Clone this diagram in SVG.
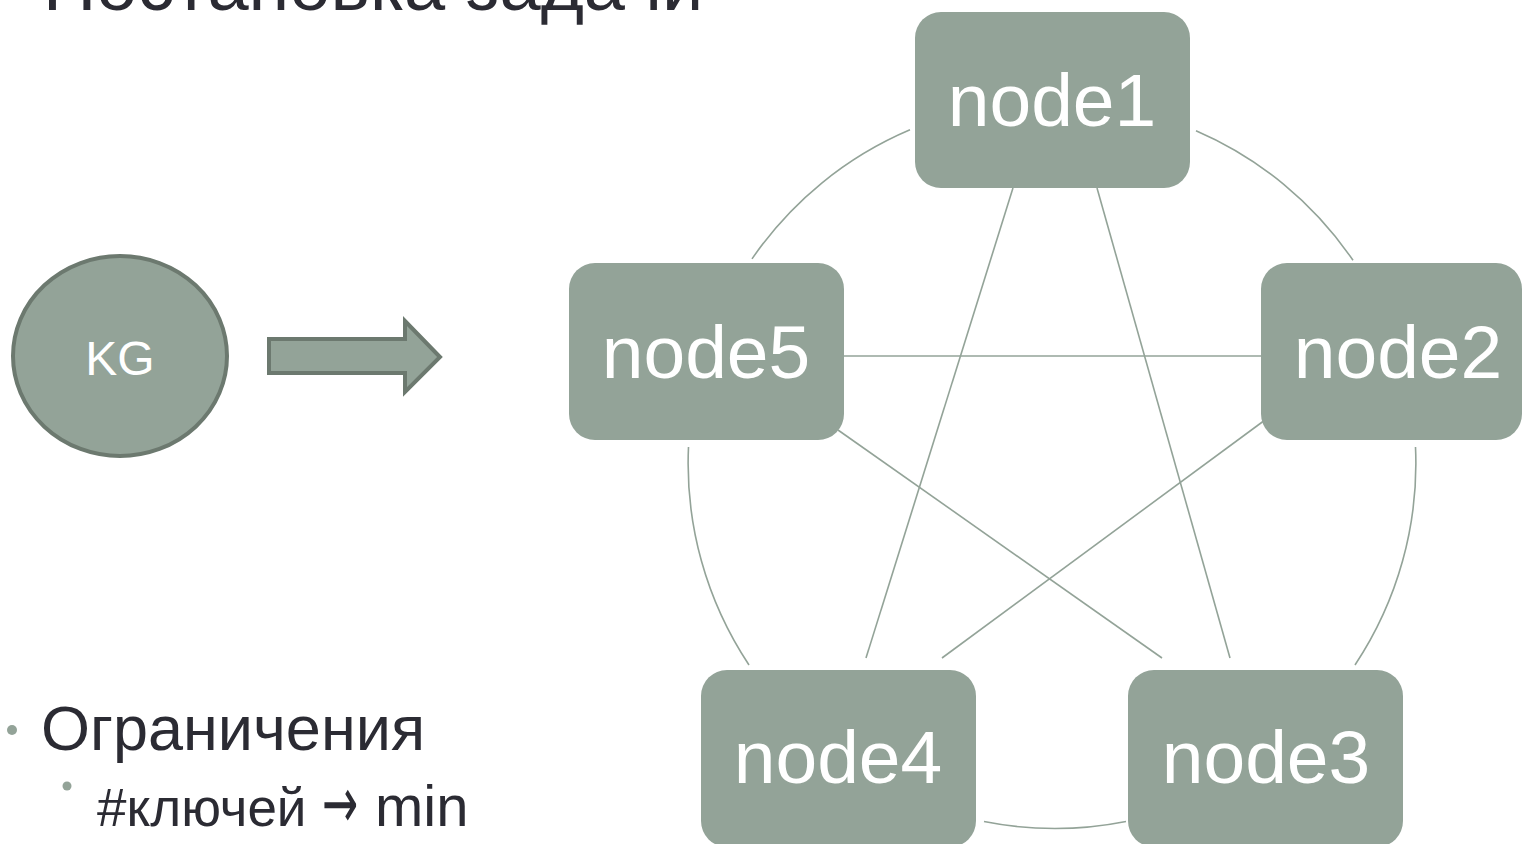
<svg xmlns="http://www.w3.org/2000/svg" width="1523" height="844" viewBox="0 0 1523 844">
  <style>
    .txt { font-family: "Liberation Sans", Arial, sans-serif; fill: #2b2b33; }
    .sym { font-family: "DejaVu Sans", sans-serif; fill: #2b2b33; }
    .node rect { fill: #93a398; }
    .node text { font-family: "Liberation Sans", Arial, sans-serif; font-size: 75px; fill: #ffffff; text-anchor: middle; }
    .link { fill: none; stroke: #93a398; stroke-width: 1.6; }
    .shape { fill: #93a398; stroke: #6c796f; stroke-width: 4; }
    .bullet { fill: #93a398; }
  </style>

  <!-- slide title, partly above the top edge -->
  <text class="txt" x="43" y="10" font-size="74">Постановка задачи</text>

  <!-- source graph -->
  <g id="kg">
    <ellipse class="shape" cx="120" cy="356" rx="107" ry="100"/>
    <text x="120" y="375" font-family="Liberation Sans, Arial, sans-serif" font-size="48" fill="#ffffff" text-anchor="middle">KG</text>
  </g>

  <!-- block arrow -->
  <g id="transform-arrow">
    <path class="shape" d="M269,339 L405,339 L405,321 L440,357 L405,392 L405,373 L269,373 Z"/>
  </g>

  <!-- bullet list -->
  <g id="constraints">
    <circle class="bullet" cx="12" cy="730" r="5"/>
    <text class="txt" x="41" y="750" font-size="63">Ограничения</text>
    <circle class="bullet" cx="67" cy="786" r="4.5"/>
    <text class="txt" x="97" y="826" font-size="53">#ключей</text>
    <text class="sym" transform="translate(322,828) scale(0.72,1.2)" font-size="60">→</text>
    <text class="txt" x="375" y="826" font-size="58">min</text>
  </g>

  <!-- connectors: ring arcs and chords -->
  <g id="connectors">
    <path class="link" d="M910,129.8 A364,364 0 0 0 752,258.9"/>
    <path class="link" d="M1196,130.7 A364,364 0 0 1 1353,260.3"/>
    <path class="link" d="M688.5,447 A364,364 0 0 0 749,665"/>
    <path class="link" d="M1415.5,447 A364,364 0 0 1 1355,665"/>
    <path class="link" d="M984,821.5 A364,364 0 0 0 1126,821.5"/>
    <line class="link" x1="1013" y1="188" x2="866" y2="658"/>
    <line class="link" x1="1097" y1="188" x2="1230" y2="658"/>
    <line class="link" x1="843" y1="356" x2="1261" y2="356"/>
    <line class="link" x1="838" y1="430" x2="1162" y2="658"/>
    <line class="link" x1="1265" y1="420" x2="942" y2="658"/>
  </g>

  <g id="node1" class="node">
    <rect x="915" y="12" width="275" height="176" rx="26"/>
    <text x="1052" y="126">node1</text>
  </g>
  <g id="node2" class="node">
    <rect x="1261" y="263" width="261" height="177" rx="26"/>
    <text x="1398" y="378">node2</text>
  </g>
  <g id="node3" class="node">
    <rect x="1128" y="670" width="275" height="177" rx="26"/>
    <text x="1266" y="783">node3</text>
  </g>
  <g id="node4" class="node">
    <rect x="701" y="670" width="275" height="177" rx="26"/>
    <text x="838" y="783">node4</text>
  </g>
  <g id="node5" class="node">
    <rect x="569" y="263" width="275" height="177" rx="26"/>
    <text x="706" y="378">node5</text>
  </g>
</svg>
